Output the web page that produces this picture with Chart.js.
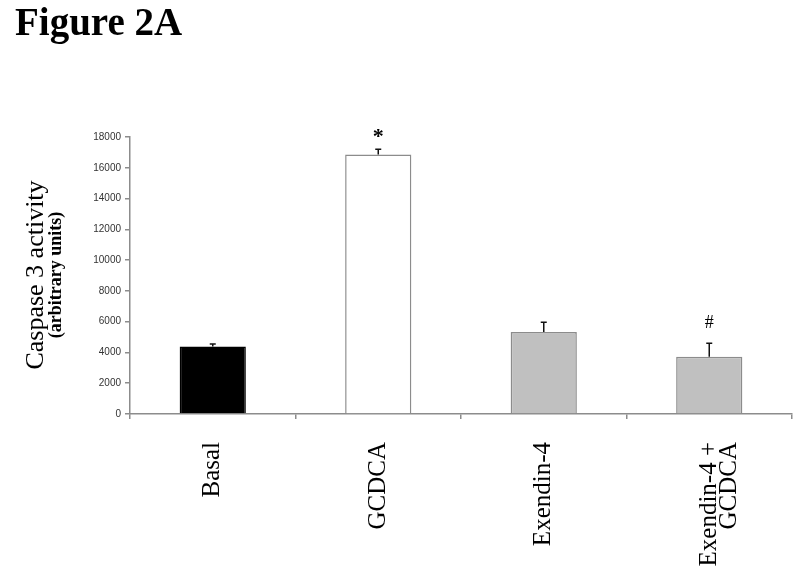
<!DOCTYPE html>
<html>
<head>
<meta charset="utf-8">
<script src="https://cdn.jsdelivr.net/npm/chart.js@4"></script>
<style>
  html, body { margin: 0; padding: 0; background: #fff; }
  #wrap { position: relative; width: 800px; height: 584px; }
  #fig { position: absolute; left: 15px; top: 0px; margin: 0; font-family: "Liberation Serif", "DejaVu Serif", serif; font-weight: bold; font-size: 39px; line-height: 44px; color: #000; }
  canvas { position: absolute; left: 0; top: 0; }
</style>
</head>
<body>
<div id="wrap">
  <canvas id="c" width="800" height="584"></canvas>
  <div id="fig">Figure 2A</div>
</div>
<script>
const categories = ['Basal', 'GCDCA', 'Exendin-4', ['Exendin-4 +', 'GCDCA']];
const means = [4380, 16870, 5330, 3720];
const errors = [170, 340, 630, 870];
const marks = ['', '*', '', '#'];
const yTicks = [0, 2000, 4000, 6000, 8000, 10000, 12000, 14000, 16000, 18000];
const yTitle = 'Caspase 3 activity';
const ySubTitle = '(arbitrary units)';

const fills = ['#000000', '#ffffff', '#c0c0c0', '#c0c0c0'];
const borders = ['#000000', '#8c8c8c', '#8c8c8c', '#8c8c8c'];

const extras = {
  id: 'extras',
  afterDatasetsDraw(chart) {
    const ctx = chart.ctx;
    const meta = chart.getDatasetMeta(0);
    const y = chart.scales.y;
    ctx.save();
    meta.data.forEach((bar, i) => {
      const top = y.getPixelForValue(means[i] + errors[i]);
      const base = y.getPixelForValue(means[i]);
      ctx.strokeStyle = '#111';
      ctx.lineWidth = 1.5;
      ctx.beginPath();
      ctx.moveTo(bar.x, base);
      ctx.lineTo(bar.x, top);
      ctx.moveTo(bar.x - 3, top);
      ctx.lineTo(bar.x + 3, top);
      ctx.stroke();
      if (marks[i]) {
        ctx.fillStyle = '#000';
        ctx.textAlign = 'center';
        ctx.textBaseline = 'bottom';
        if (marks[i] === '*') {
          ctx.font = 'bold 22px "Liberation Serif", serif';
          ctx.fillText(marks[i], bar.x, top - 1);
        } else {
          ctx.font = '18px "Liberation Serif", serif';
          ctx.fillText(marks[i], bar.x, top - 11);
        }
      }
    });
    const cy = 275;
    ctx.fillStyle = '#000';
    ctx.save();
    ctx.translate(36, cy);
    ctx.rotate(-Math.PI / 2);
    ctx.textAlign = 'center';
    ctx.textBaseline = 'middle';
    ctx.font = '26px "Liberation Serif", serif';
    ctx.fillText(yTitle, 0, 0);
    ctx.restore();
    ctx.save();
    ctx.translate(56, cy);
    ctx.rotate(-Math.PI / 2);
    ctx.textAlign = 'center';
    ctx.textBaseline = 'middle';
    ctx.font = 'bold 18px "Liberation Serif", serif';
    ctx.fillText(ySubTitle, 0, 0);
    ctx.restore();
    ctx.restore();
  }
};

new Chart(document.getElementById('c'), {
  type: 'bar',
  data: {
    labels: categories,
    datasets: [{
      data: means,
      backgroundColor: fills,
      borderColor: borders,
      borderWidth: 1.5,
      categoryPercentage: 0.4,
      barPercentage: 1.0
    }]
  },
  options: {
    responsive: false,
    animation: false,
    layout: { padding: { left: 0, right: 8, top: 137, bottom: 0 } },
    plugins: { legend: { display: false }, tooltip: { enabled: false } },
    scales: {
      y: {
        min: 0, max: 18000,
        afterFit(s) { s.width = 130; },
        afterBuildTicks(s) { s.ticks = yTicks.map(v => ({ value: v })); },
        border: { color: '#8c8c8c', width: 1.5 },
        grid: { drawOnChartArea: false, drawTicks: true, tickLength: 5, color: '#8c8c8c', lineWidth: 1.5 },
        ticks: { padding: 4, color: '#333', font: { family: 'Liberation Sans, Arial, sans-serif', size: 10 }, callback: v => String(v) }
      },
      x: {
        afterFit(s) { s.height = 170; },
        border: { color: '#8c8c8c', width: 1.5 },
        grid: { drawOnChartArea: false, drawTicks: true, tickLength: 5, color: '#8c8c8c', lineWidth: 1.5, offset: true },
        ticks: { minRotation: 90, maxRotation: 90, padding: 23, color: '#000', font: { family: 'Liberation Serif, serif', size: 25, lineHeight: 0.8 } }
      }
    }
  },
  plugins: [extras]
});
</script>
</body>
</html>
